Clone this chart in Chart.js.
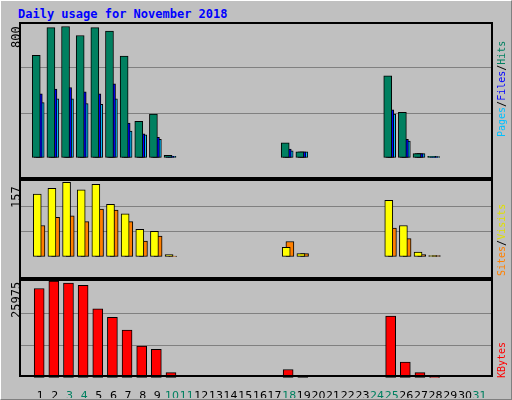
<!DOCTYPE html>
<html>
<head>
<meta charset="utf-8">
<script src="https://cdn.jsdelivr.net/npm/chart.js@4"></script>
<style>
  body { margin: 0; background: #fff; }
  #frame { position: absolute; left: 0; top: 0; width: 510px; height: 398px; background: #c0c0c0;
           border-top: 1px solid #fff; border-left: 1px solid #fff; border-right: 1px solid #808080; border-bottom: 1px solid #808080; }
  .abs { position: absolute; }
  .box { position: absolute; border: 2px solid #000; box-sizing: border-box; pointer-events: none; }
  .vt { position: absolute; transform-origin: left top; transform: rotate(-90deg); white-space: nowrap;
        font: 10px "DejaVu Sans Mono", monospace; }
  #title { left: 18px; top: 7px; color: #0000ff; font: bold 12px "DejaVu Sans Mono", monospace; }
</style>
</head>
<body>
<div id="frame"></div>
<div id="title" class="abs">Daily usage for November 2018</div>

<canvas id="c1" class="abs" style="left:20px;top:23px" width="472" height="155"></canvas>
<canvas id="c2" class="abs" style="left:20px;top:181px" width="472" height="96"></canvas>
<canvas id="c3" class="abs" style="left:20px;top:281px" width="472" height="117"></canvas>
<div class="box" style="left:19px;top:22px;width:474px;height:157px"></div>
<div class="box" style="left:19px;top:179px;width:474px;height:100px"></div>
<div class="box" style="left:19px;top:279px;width:474px;height:98px"></div>

<div class="vt" style="left:9px;top:48px;font-size:12px">800</div>
<div class="vt" style="left:9px;top:208px;font-size:12px">157</div>
<div class="vt" style="left:9px;top:318px;font-size:12px">25975</div>
<div class="vt" style="left:496px;top:137px"><span style="color:#00c0ff">Pages</span>/<span style="color:#0000ff">Files</span>/<span style="color:#008060">Hits</span></div>
<div class="vt" style="left:496px;top:276px"><span style="color:#ff8000">Sites</span>/<span style="color:#e0e000">Visits</span></div>
<div class="vt" style="left:496px;top:378px"><span style="color:#ff0000">KBytes</span></div>

<script>
// values
const days = Array.from({length: 31}, (_, i) => i + 1)
const weekend = [3, 4, 10, 11, 18, 24, 25, 31]

const hits   = [609,773,779,726,773,752,604,217,260,16,0,0,0,0,0,0,0,90,37,0,0,0,0,0,487,270,26,10,0,0,0]
const files  = [381,408,418,392,381,440,207,143,122,10,0,0,0,0,0,0,0,53,37,0,0,0,0,0,286,111,26,8,0,0,0]
const pages  = [328,350,350,323,318,350,159,138,111,10,0,0,0,0,0,0,0,42,37,0,0,0,0,0,260,100,26,8,0,0,0]
const visits = [130,142,154,139,150,109,89,57,53,5,0,0,0,0,0,0,0,20,7,0,0,0,0,0,117,65,10,3,0,0,0]
const sites  = [65,82,85,73,99,97,73,33,43,2,0,0,0,0,0,0,0,32,7,0,0,0,0,0,60,38,5,3,0,0,0]
const kbytes = [23977,25975,25400,24833,18554,16270,12845,8563,7707,1427,0,0,0,0,0,0,0,2283,570,0,0,0,0,0,16556,4281,1427,285,0,0,0]

function series(values, shift, color, width) {
  return {
    data: values.map((v, i) => ({x: days[i] + shift, y: v})).filter(p => p.y > 0),
    backgroundColor: color,
    borderColor: '#000',
    borderWidth: 1,
    barThickness: width,
    grouped: false,
    borderSkipped: false
  }
}

function makeChart(id, datasets, max, showX) {
  return new Chart(document.getElementById(id), {
    type: 'bar',
    data: {datasets},
    options: {
      responsive: false,
      animation: false,
      layout: {padding: 0},
      plugins: {legend: {display: false}, tooltip: {enabled: false}},
      scales: {
        x: {
          type: 'linear', min: 0.14, max: 31.33,
          display: showX,
          grid: {display: false},
          border: {display: false},
          afterBuildTicks: s => { s.ticks = days.map(d => ({value: d})) },
          afterFit: s => { s.height = 20 },
          ticks: {
            autoSkip: false, maxRotation: 0, minRotation: 0, padding: 4,
            color: c => weekend.includes(c.tick.value) ? '#008060' : '#000',
            font: {family: 'DejaVu Sans', size: 11}
          }
        },
        y: {
          min: 0, max: max,
          afterBuildTicks: s => { s.ticks = [0, max / 3, 2 * max / 3, max].map(v => ({value: v})) },
          afterFit: s => { s.width = 0 },
          ticks: {display: false},
          border: {display: false},
          grid: {
            drawTicks: false,
            lineWidth: 1,
            color: c => (c.tick.value > 0 && c.tick.value < max) ? '#808080' : 'rgba(0,0,0,0)'
          }
        }
      }
    }
  })
}

makeChart('c1', [
  series(hits, -0.27, '#008060', 8),
  series(files, -0.13, '#0000ff', 8),
  series(pages, 0, '#00c0ff', 8)
], 800, false)

makeChart('c2', [
  series(visits, -0.2, '#ffff00', 8),
  series(sites, 0.05, '#ff8000', 8)
], 157, false)

makeChart('c3', [
  series(kbytes, -0.07, '#ff0000', 10)
], 25975, true)
</script>
</body>
</html>
